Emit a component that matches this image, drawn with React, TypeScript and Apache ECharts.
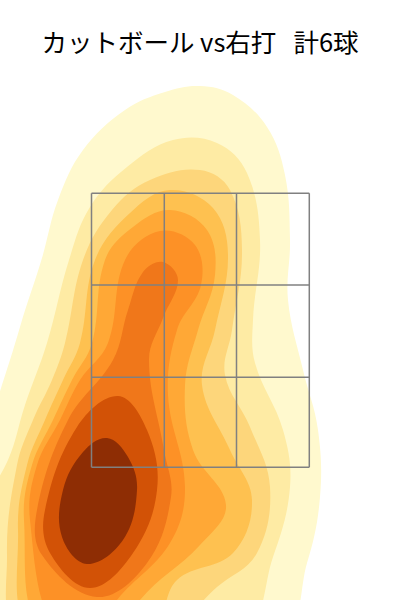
import React, { useEffect, useRef } from "react";
import * as echarts from "echarts";

const titleText = "カットボール vs右打   計6球";
const zoneX = [91.5, 164.3, 236.5, 309.3];
const zoneY = [193.3, 285, 377.3, 467.3];
const levelColors = ["#FFF9CE", "#FEEBA4", "#FDD67B", "#FEC150", "#FFA836", "#FD9126", "#F0771A", "#D25206", "#8E2D04"];

const level1 = [[20,327],[42,258],[58,200],[83,150],[125,110],[165,92],[200,86],[233,95],[267,127],[285,175],[290,240],[288,300],[303,370],[318,430],[320,497],[307,563],[280,630],[-30,630],[-25,490]];
const level2 = [[47,343],[69,260],[90,207],[127,167],[173,140],[217,143],[247,173],[260,240],[253,320],[255,363],[283,430],[290,487],[273,557],[240,630],[-40,630],[-30,530],[8,460],[25,405]];
const level3 = [[52,380],[65,343],[83,260],[112,210],[150,180],[200,170],[230,190],[242,250],[232,330],[225,375],[250,427],[270,487],[257,553],[217,587],[165,630],[20,630],[7,555],[17,465],[33,420]];
const level4 = [[63,380],[80,343],[95,260],[130,213],[170,190],[213,208],[228,255],[215,330],[202,385],[230,450],[252,500],[233,553],[177,580],[150,630],[32,630],[18,530],[27,465],[45,420]];
const level5 = [[72,380],[92,343],[105,260],[133,227],[170,210],[207,230],[215,275],[198,330],[185,385],[193,450],[226,505],[200,545],[140,600],[130,630],[42,630],[24,520],[32,465],[53,420]];
const level6 = [[80,380],[108,343],[125,260],[160,231],[195,245],[201,285],[177,330],[168,395],[185,487],[170,543],[117,600],[100,630],[55,630],[30,520],[37,465],[60,420]];
const level7 = [[163,262],[178,280],[163,318],[149,360],[164,450],[171,497],[147,563],[97,597],[42,555],[37,510],[68,420],[113,360],[128,310],[143,272]];
const level8 = [[118,396],[147,430],[157,490],[133,553],[90,588],[50,553],[45,510],[77,427]];
const level9 = [[107,438],[128,457],[137,490],[123,540],[87,564],[62,537],[63,490],[83,452]];
const levels = [level1, level2, level3, level4, level5, level6, level7, level8, level9];

export default function App() {
  const ref = useRef<HTMLDivElement>(null);
  useEffect(() => {
    document.body.style.margin = "0";
    const chart = echarts.init(ref.current!, undefined, { renderer: "svg" });
    chart.setOption({
      animation: false,
      backgroundColor: "#fff",
      title: {
        text: titleText,
        left: "center",
        top: 23,
        textStyle: { color: "#000", fontSize: 25.5, fontWeight: "normal", fontFamily: "'Noto Sans CJK JP'" },
      },
      grid: { left: 0, right: 0, top: 0, bottom: 0 },
      xAxis: { type: "value", min: 0, max: 400, show: false },
      yAxis: { type: "value", min: 0, max: 600, inverse: true, show: false },
      series: [
        {
          type: "custom",
          coordinateSystem: "cartesian2d",
          clip: true,
          silent: true,
          data: levels.map((_, i) => [i]),
          renderItem: (_p: any, api: any) => {
            const i = api.value(0);
            return {
              type: "polygon",
              shape: { points: levels[i].map((p) => api.coord(p)), smooth: 0.38 },
              style: { fill: levelColors[i], stroke: "none" },
            };
          },
        },
        {
          type: "custom",
          coordinateSystem: "cartesian2d",
          silent: true,
          data: [[0]],
          renderItem: (_p: any, api: any) => {
            const children: any[] = [];
            const style = { stroke: "#808080", lineWidth: 1.5, fill: "none" };
            zoneX.forEach((x) => {
              const a = api.coord([x, zoneY[0]]);
              const b = api.coord([x, zoneY[3]]);
              children.push({ type: "line", shape: { x1: a[0], y1: a[1], x2: b[0], y2: b[1] }, style });
            });
            zoneY.forEach((y) => {
              const a = api.coord([zoneX[0], y]);
              const b = api.coord([zoneX[3], y]);
              children.push({ type: "line", shape: { x1: a[0], y1: a[1], x2: b[0], y2: b[1] }, style });
            });
            return { type: "group", children };
          },
        },
      ],
    });
    return () => chart.dispose();
  }, []);
  return <div ref={ref} style={{ width: 400, height: 600 }} />;
}
